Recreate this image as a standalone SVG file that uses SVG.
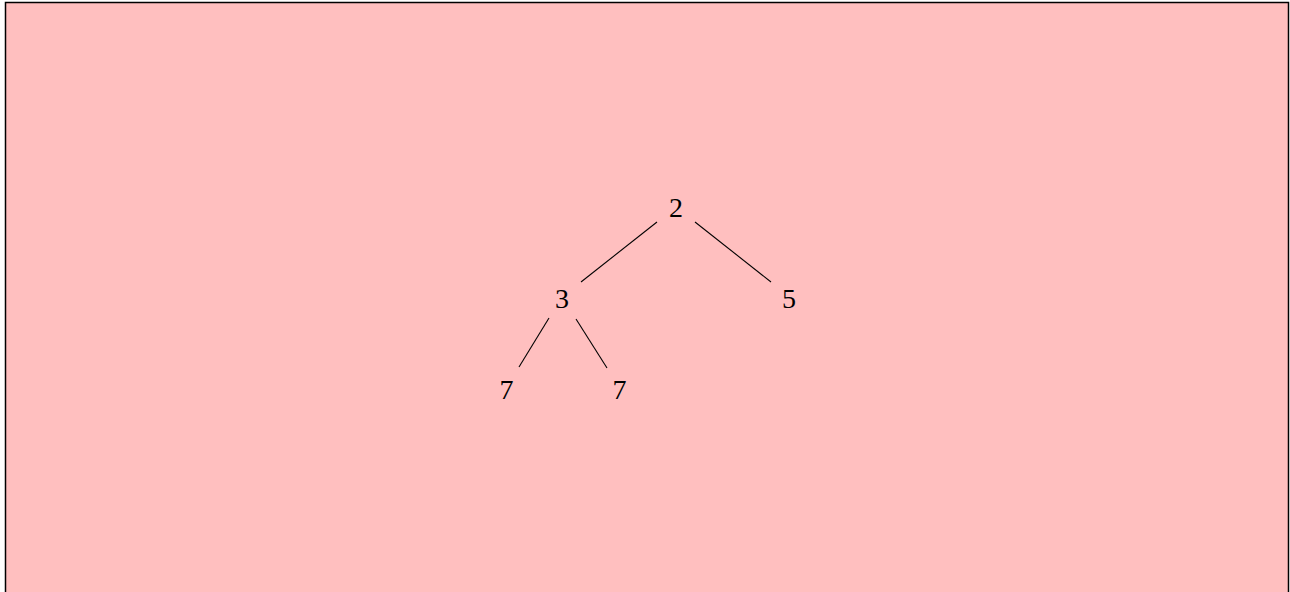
<svg xmlns="http://www.w3.org/2000/svg" width="1290" height="592" viewBox="0 0 1290 592">
<style>
.n{font-family:"Liberation Serif","DejaVu Serif",serif;font-size:28px;fill:#000;text-anchor:middle}
.e{stroke:#000;stroke-width:1.1;fill:none}
</style>
<rect x="5.5" y="2.5" width="1283" height="600" fill="#FFBFBF" stroke="#000" stroke-width="1.5"/>
<g id="edges">
<line class="e" x1="657" y1="222" x2="581" y2="282"/>
<line class="e" x1="695" y1="222" x2="771" y2="282"/>
<line class="e" x1="549" y1="318" x2="519" y2="367"/>
<line class="e" x1="576" y1="319" x2="607" y2="368"/>
</g>
<g id="n2"><text class="n" x="676" y="217">2</text></g>
<g id="n3"><text class="n" x="562" y="307.5">3</text></g>
<g id="n5"><text class="n" x="789" y="307.5">5</text></g>
<g id="n7a"><text class="n" x="506.5" y="398.5">7</text></g>
<g id="n7b"><text class="n" x="619.5" y="398.5">7</text></g>
</svg>
